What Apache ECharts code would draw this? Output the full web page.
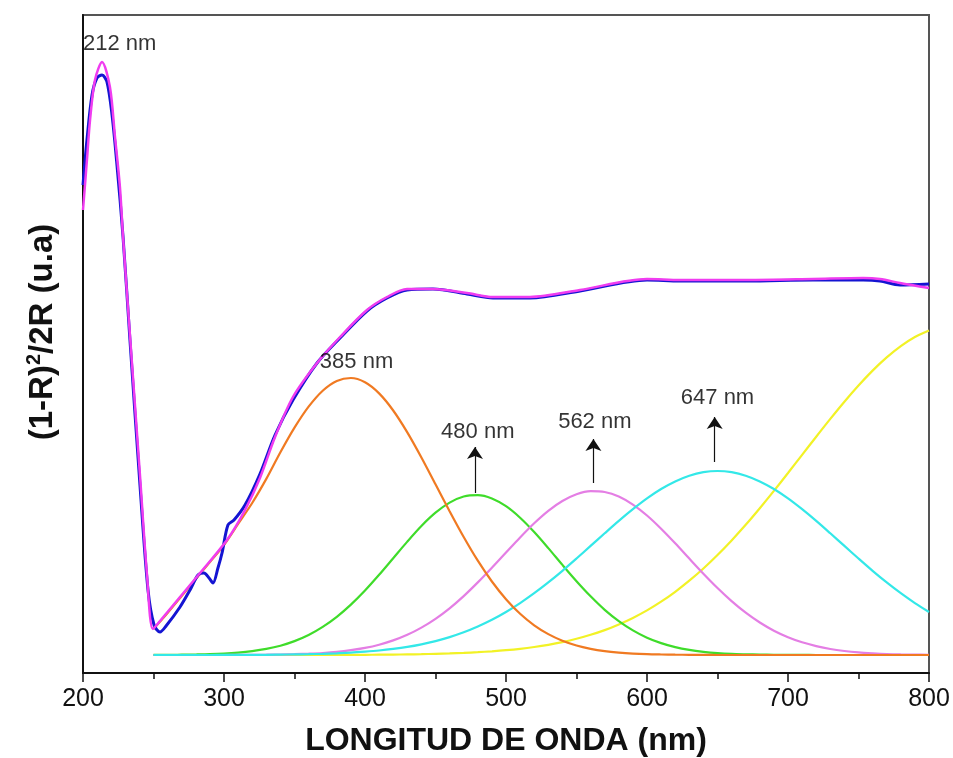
<!DOCTYPE html>
<html>
<head>
<meta charset="utf-8">
<script src="https://cdn.jsdelivr.net/npm/echarts@6/dist/echarts.min.js"></script>
<style>
html,body{margin:0;padding:0;background:#fff;}
#chart{width:953px;height:758px;}
</style>
</head>
<body>
<div id="chart"></div>
<script>
// Wavelength grid for the deconvoluted bands (nm), 250..800 every 10 nm
const bandX = [250,260,270,280,290,300,310,320,330,340,350,360,370,380,390,400,410,420,430,440,450,460,470,480,490,500,510,520,530,540,550,560,570,580,590,600,610,620,630,640,650,660,670,680,690,700,710,720,730,740,750,760,770,780,790,800];
const orangeY = [44.0,60.0,77.0,94.0,111.0,128.0,149.0,170.0,194.1,220.7,245.3,266.3,282.3,292.1,295.0,290.7,279.6,262.5,240.6,215.5,188.7,161.8,136.0,112.3,91.5,73.8,59.2,47.7,38.9,32.3,27.5,24.2,21.9,20.4,19.4,18.8,18.5,18.3,18.2,18.1,18.0,18.0,18.0,18.0,18.0,18.0,18.0,18.0,18.0,18.0,18.0,18.0,18.0,18.0,18.0,18.0];
const greenY  = [18.1,18.1,18.3,18.5,18.8,19.4,20.4,21.9,24.1,27.3,31.9,38.0,46.1,56.2,68.4,82.5,98.2,114.8,131.4,147.0,160.3,170.4,176.5,177.9,174.6,166.8,155.3,141.0,124.9,108.1,91.8,76.7,63.2,51.9,42.6,35.3,29.9,25.9,23.1,21.2,19.9,19.1,18.7,18.4,18.2,18.1,18.1,18.0,18.0,18.0,18.0,18.0,18.0,18.0,18.0,18.0];
const pinkY   = [18.0,18.0,18.0,18.0,18.0,18.0,18.1,18.2,18.3,18.5,18.8,19.3,20.0,21.1,22.8,25.1,28.3,32.6,38.2,45.4,54.2,64.7,76.9,90.6,105.3,120.5,135.6,149.8,162.2,172.0,178.8,181.8,181.0,176.5,168.4,157.5,144.3,129.7,114.4,99.3,85.0,71.9,60.3,50.5,42.3,35.8,30.7,26.9,24.0,22.0,20.6,19.7,19.0,18.6,18.4,18.2];
const cyanY   = [18.0,18.0,18.0,18.0,18.0,18.1,18.1,18.2,18.2,18.4,18.6,18.8,19.2,19.7,20.3,21.3,22.5,24.1,26.1,28.7,31.9,35.9,40.7,46.5,53.2,61.0,69.9,79.8,90.6,102.2,114.5,127.1,139.7,152.1,163.8,174.6,184.0,191.6,197.3,200.8,202.0,200.8,197.3,191.6,184.0,174.6,163.8,152.1,139.7,127.1,114.5,102.2,90.6,79.8,69.9,61.0];
const yellowY = [18.0,18.0,18.0,18.0,18.0,18.0,18.0,18.0,18.0,18.0,18.0,18.0,18.0,18.0,18.2,18.2,18.3,18.4,18.6,18.8,19.2,19.6,20.1,20.8,21.7,22.8,24.2,26.0,28.2,30.9,34.2,38.2,42.9,48.6,55.1,62.6,71.3,81.2,92.3,104.5,118.0,132.6,148.2,164.8,182.1,200.0,218.2,236.3,254.1,271.3,287.5,302.4,315.6,326.9,336.0,342.6];

// Fitted spectrum (magenta)
const fitX = [200.0,202.8,205.0,208.5,213.5,219.1,222.7,226.2,228.4,233.3,240.4,245.4,249.6,254.6,268.8,283.0,302.1,314.9,325.5,336.2,348.9,366.0,382.3,401.4,415.6,429.8,448.2,472.3,490.8,517.0,552.5,600.0,623.4,670.9,717.7,753.2,765.2,779.4,800.0];
const fitY = [463,513,553,593,611,586,536,486,436,338,198,98,44,52,76,100,133,163,195,236,276,310,336,363,376,384,384,380,376,376,383,394,393,393,394,395,394,390,385];

// Measured spectrum (blue)
const dataX = [200.0,202.8,206.4,209.9,213.5,217.0,220.6,224.1,228.4,233.3,240.4,246.1,250.4,254.6,258.9,268.8,275.9,281.6,285.8,289.4,292.2,295.7,298.6,302.8,307.1,314.9,325.5,336.2,348.9,366.0,382.3,401.4,415.6,429.8,448.2,472.3,490.8,517.0,552.5,600.0,623.4,670.9,717.7,753.2,765.2,779.4,800.0];
const dataY = [488,533,578,595,598,591,558,508,436,333,188,83,48,41,47,66,83,98,100,95,90,105,120,148,153,168,199,238,273,310,335,362,375,383,384,379,375,375,382,393,392,392,393,393,392,388,389];

// Annotations
const annX = [226,394,480,563,650];
const annY = [629,311,241,251,275];
const annText = ['212 nm','385 nm','480 nm','562 nm','647 nm'];
const arrowX = [478,562,648];
const arrowFrom = [180,190,211];
const arrowTo = [226,234,256];

const xTicks = [200,300,400,500,600,700,800];

function pairs(xs, ys){ return xs.map((x,i)=>[x, ys[i]]); }

const chart = echarts.init(document.getElementById('chart'), null, {renderer:'canvas'});
const narrow = "'Liberation Sans Narrow','Arial Narrow','Liberation Sans',Arial,sans-serif";
const sans = "'Liberation Sans',Arial,sans-serif";

function band(name, ys, color){
  return {name, type:'line', data: pairs(bandX, ys), smooth:0.3, showSymbol:false,
    lineStyle:{color, width:2.2}, itemStyle:{color}, z:2, silent:true};
}

const option = {
  animation:false,
  backgroundColor:'#fff',
  grid:{left:83, right:24, top:15, bottom:85, show:true, borderColor:'#555', borderWidth:2,
        containLabel:false, outerBoundsMode:'none'},
  xAxis:{
    type:'value', min:xTicks[0], max:xTicks[xTicks.length-1], interval:100,
    axisLine:{show:true, onZero:false, lineStyle:{color:'#111', width:2}},
    axisTick:{show:true, inside:false, length:9, lineStyle:{color:'#111', width:1.5}},
    minorTick:{show:true, splitNumber:2, length:6, lineStyle:{color:'#111', width:1.5}},
    splitLine:{show:false},
    axisLabel:{fontSize:25, color:'#111', fontFamily:narrow, margin:14},
    name:'LONGITUD DE ONDA (nm)', nameLocation:'middle', nameGap:52,
    nameTextStyle:{fontSize:32, fontWeight:'bold', color:'#111', fontFamily:narrow}
  },
  yAxis:{
    type:'value', min:0, max:658,
    axisLine:{show:true, onZero:false, lineStyle:{color:'#111', width:2}},
    axisTick:{show:false}, axisLabel:{show:false}, splitLine:{show:false},
    name:'{a|(1-R)}{s|2}{a|/2R (u.a)}', nameLocation:'middle', nameGap:22, nameRotate:90,
    nameTextStyle:{
      padding:[0,0,0,24],
      rich:{
        a:{fontSize:33, fontWeight:'bold', color:'#111', fontFamily:sans},
        s:{fontSize:20, fontWeight:'bold', color:'#111', fontFamily:sans, padding:[0,0,17,0]}
      }
    }
  },
  series:[
    band('yellow', yellowY, '#f2f226'),
    band('green', greenY, '#3fdc2a'),
    band('pink', pinkY, '#e47ee4'),
    band('cyan', cyanY, '#33e8e8'),
    band('orange', orangeY, '#f07a22'),
    {name:'data', type:'line', data:pairs(dataX, dataY), smooth:0.3, showSymbol:false,
      lineStyle:{color:'#1414d2', width:3}, z:3, silent:true},
    {name:'fit', type:'line', data:pairs(fitX, fitY), smooth:0.3, showSymbol:false,
      lineStyle:{color:'#f03cf0', width:2.5}, z:4, silent:true},
    {name:'ann', type:'scatter', data:pairs(annX, annY), symbolSize:0, z:5, silent:true,
      label:{show:true, position:'inside', formatter:p=>annText[p.dataIndex],
        fontSize:22, color:'#000', fontFamily:sans},
      markLine:{silent:true, symbol:['none','arrow'], symbolSize:12,
        lineStyle:{color:'#111', width:1.2, type:'solid'}, label:{show:false},
        emphasis:{disabled:true},
        data: arrowX.map((x,i)=>[{coord:[x, arrowFrom[i]]},{coord:[x, arrowTo[i]]}])}
    }
  ]
};
chart.setOption(option);
</script>
</body>
</html>
